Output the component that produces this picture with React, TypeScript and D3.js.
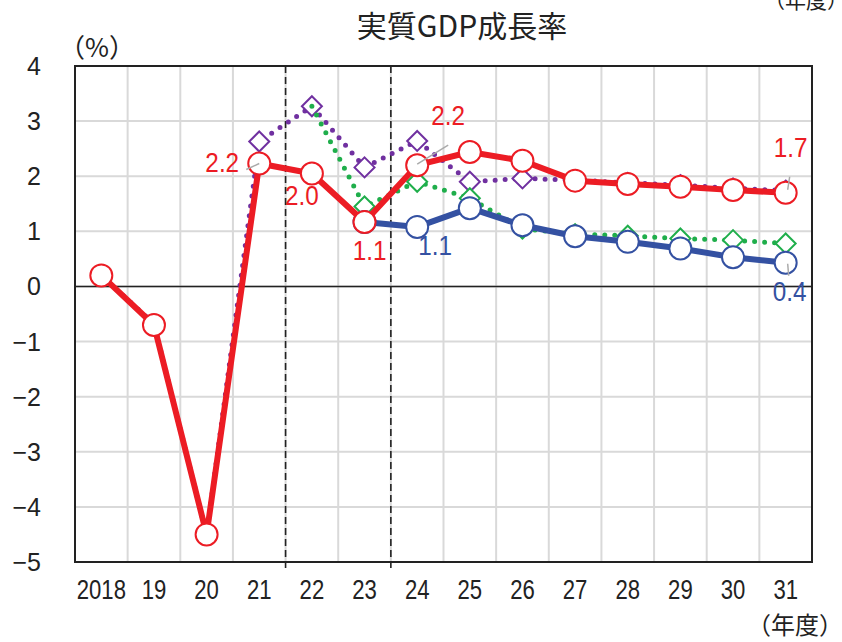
import * as d3 from "d3";

const years = ["2018", "19", "20", "21", "22", "23", "24", "25", "26", "27", "28", "29", "30", "31"];
const yTicks = [4, 3, 2, 1, 0, -1, -2, -3, -4, -5];

// 実績・見通し（赤）
const redValues: (number | null)[] = [0.2, -0.7, -4.5, 2.23, 2.05, 1.17, 2.2, 2.44, 2.28, 1.92, 1.86, 1.81, 1.75, 1.7];
// 紫（点線）
const purpleValues: (number | null)[] = [0.2, -0.68, -4.5, 2.63, 3.27, 2.16, 2.64, 1.9, 1.96, 1.93, 1.88, 1.84, 1.78, 1.74];
// 緑（点線）
const greenValues: (number | null)[] = [null, null, null, null, 3.27, 1.45, 1.9, 1.6, 1.05, 0.95, 0.92, 0.87, 0.84, 0.78];
// 青
const blueValues: (number | null)[] = [null, null, null, null, null, 1.17, 1.08, 1.42, 1.11, 0.91, 0.81, 0.69, 0.53, 0.43];

// data labels
const labelYears = ["21", "22", "23", "24", "24", "31", "31"];
const labelValues = [2.23, 2.05, 1.17, 1.08, 2.2, 1.7, 0.43];
const labelTexts = ["2.2", "2.0", "1.1", "1.1", "2.2", "1.7", "0.4"];

const RED = "#ec1c24";
const BLUE = "#3451a2";
const PURPLE = "#7030a0";
const GREEN = "#1fae4b";

const width = 842;
const height = 642;
const margin = { top: 66, right: 30, bottom: 80, left: 75 };

export default function App() {
  const x = d3
    .scaleBand<string>()
    .domain(years)
    .range([margin.left, width - margin.right]);
  const y = d3
    .scaleLinear()
    .domain([-5, 4])
    .range([height - margin.bottom, margin.top]);
  const cx = (yr: string) => (x(yr) || 0) + x.bandwidth() / 2;

  const line = d3
    .line<number | null>()
    .defined((d) => d != null)
    .x((_, i) => cx(years[i]))
    .y((d) => y(d as number));

  const diamond = (px: number, py: number, r: number) =>
    `M${px},${py - r}L${px + r},${py}L${px},${py + r}L${px - r},${py}Z`;

  const numFont = "'Liberation Sans', Arial, sans-serif";
  const jpFont = "'Noto Sans CJK JP', sans-serif";

  // label placement relative to the point, leader line offsets
  const labelStyle = [
    { color: RED, dx: -37, dy: 8, leader: [-13, 6, 0, 0] },
    { color: RED, dx: -10, dy: 32, leader: null },
    { color: RED, dx: 5, dy: 38, leader: null },
    { color: BLUE, dx: 18, dy: 28, leader: null },
    { color: RED, dx: 31, dy: -40, leader: [0, -1, 31, -20] },
    { color: RED, dx: 5, dy: -36, leader: [2, -3, 4, -16] },
    { color: BLUE, dx: 4, dy: 38, leader: [2, 1, 3, 13] },
  ];

  const left = margin.left;
  const right = width - margin.right;
  const top = margin.top;
  const bottom = height - margin.bottom;

  return (
    <svg
      width={width}
      height={height}
      style={{ position: "absolute", left: 0, top: 0, background: "#fff" }}
    >
      {/* title */}
      <text x={462} y={37} textAnchor="middle" fontFamily={jpFont} fontSize={30} fill="#222">
        実質GDP成長率
      </text>
      <text x={764} y={8} fontFamily={jpFont} fontSize={21} fill="#222">
        （年度）
      </text>
      <text x={59} y={57} fontFamily={jpFont} fontSize={26} fill="#222">
        （%）
      </text>

      {/* grid */}
      {yTicks.map((t) => (
        <line key={"h" + t} x1={left} x2={right} y1={y(t)} y2={y(t)} stroke="#d9d9d9" strokeWidth={2} />
      ))}
      {years.slice(1).map((yr) => (
        <line key={"v" + yr} x1={x(yr)} x2={x(yr)} y1={top} y2={bottom} stroke="#d9d9d9" strokeWidth={2} />
      ))}

      {/* dashed separators */}
      {["22", "24"].map((yr) => (
        <line
          key={"d" + yr}
          x1={x(yr)}
          x2={x(yr)}
          y1={top}
          y2={bottom + 6}
          stroke="#222"
          strokeWidth={1.6}
          strokeDasharray="7 4"
        />
      ))}

      {/* zero line and frame */}
      <line x1={left} x2={right} y1={y(0)} y2={y(0)} stroke="#222" strokeWidth={1.5} />
      <rect x={left} y={top} width={right - left} height={bottom - top} fill="none" stroke="#222" strokeWidth={2} />

      {/* y tick labels */}
      {yTicks.map((t) => (
        <text
          key={"yt" + t}
          x={41}
          y={y(t) + 9}
          textAnchor="end"
          fontFamily={numFont}
          fontSize={25}
          fill="#222"
        >
          {t < 0 ? "−" + Math.abs(t) : t}
        </text>
      ))}

      {/* x tick labels */}
      {years.map((yr) => (
        <text
          key={"xt" + yr}
          transform={`translate(${cx(yr)},599) scale(0.82,1)`}
          textAnchor="middle"
          fontFamily={numFont}
          fontSize={27}
          fill="#222"
        >
          {yr}
        </text>
      ))}
      <text x={747} y={634} fontFamily={jpFont} fontSize={24} fill="#222">
        （年度）
      </text>

      {/* purple dotted */}
      <path
        d={line(purpleValues) || ""}
        fill="none"
        stroke={PURPLE}
        strokeWidth={5}
        strokeDasharray="0 10"
        strokeLinecap="round"
      />
      {purpleValues.map((v, i) =>
        v == null || i < 3 ? null : (
          <path key={"pm" + i} d={diamond(cx(years[i]), y(v), 10)} fill="#fff" stroke={PURPLE} strokeWidth={2} />
        )
      )}

      {/* green dotted */}
      <path
        d={line(greenValues) || ""}
        fill="none"
        stroke={GREEN}
        strokeWidth={5}
        strokeDasharray="0 10"
        strokeLinecap="round"
      />
      {greenValues.map((v, i) =>
        v == null || i < 5 ? null : (
          <path key={"gm" + i} d={diamond(cx(years[i]), y(v), 10)} fill="#fff" stroke={GREEN} strokeWidth={2} />
        )
      )}

      {/* blue */}
      <path d={line(blueValues) || ""} fill="none" stroke={BLUE} strokeWidth={6} strokeLinejoin="round" />
      {blueValues.map((v, i) =>
        v == null ? null : (
          <circle key={"bm" + i} cx={cx(years[i])} cy={y(v)} r={11} fill="#fff" stroke={BLUE} strokeWidth={2} />
        )
      )}

      {/* red */}
      <path d={line(redValues) || ""} fill="none" stroke={RED} strokeWidth={6} strokeLinejoin="round" />
      {redValues.map((v, i) =>
        v == null ? null : (
          <circle key={"rm" + i} cx={cx(years[i])} cy={y(v)} r={11} fill="#fff" stroke={RED} strokeWidth={2} />
        )
      )}

      {/* data labels */}
      {labelTexts.map((t, i) => {
        const px = cx(labelYears[i]);
        const py = y(labelValues[i]);
        const s = labelStyle[i];
        return (
          <g key={"lb" + i}>
            {s.leader && (
              <line
                x1={px + s.leader[0]}
                y1={py + s.leader[1]}
                x2={px + s.leader[2]}
                y2={py + s.leader[3]}
                stroke="#aaa"
                strokeWidth={1.5}
              />
            )}
            <text
              transform={`translate(${px + s.dx},${py + s.dy}) scale(0.9,1)`}
              textAnchor="middle"
              fontFamily={numFont}
              fontSize={27}
              fill={s.color}
            >
              {t}
            </text>
          </g>
        );
      })}
    </svg>
  );
}
